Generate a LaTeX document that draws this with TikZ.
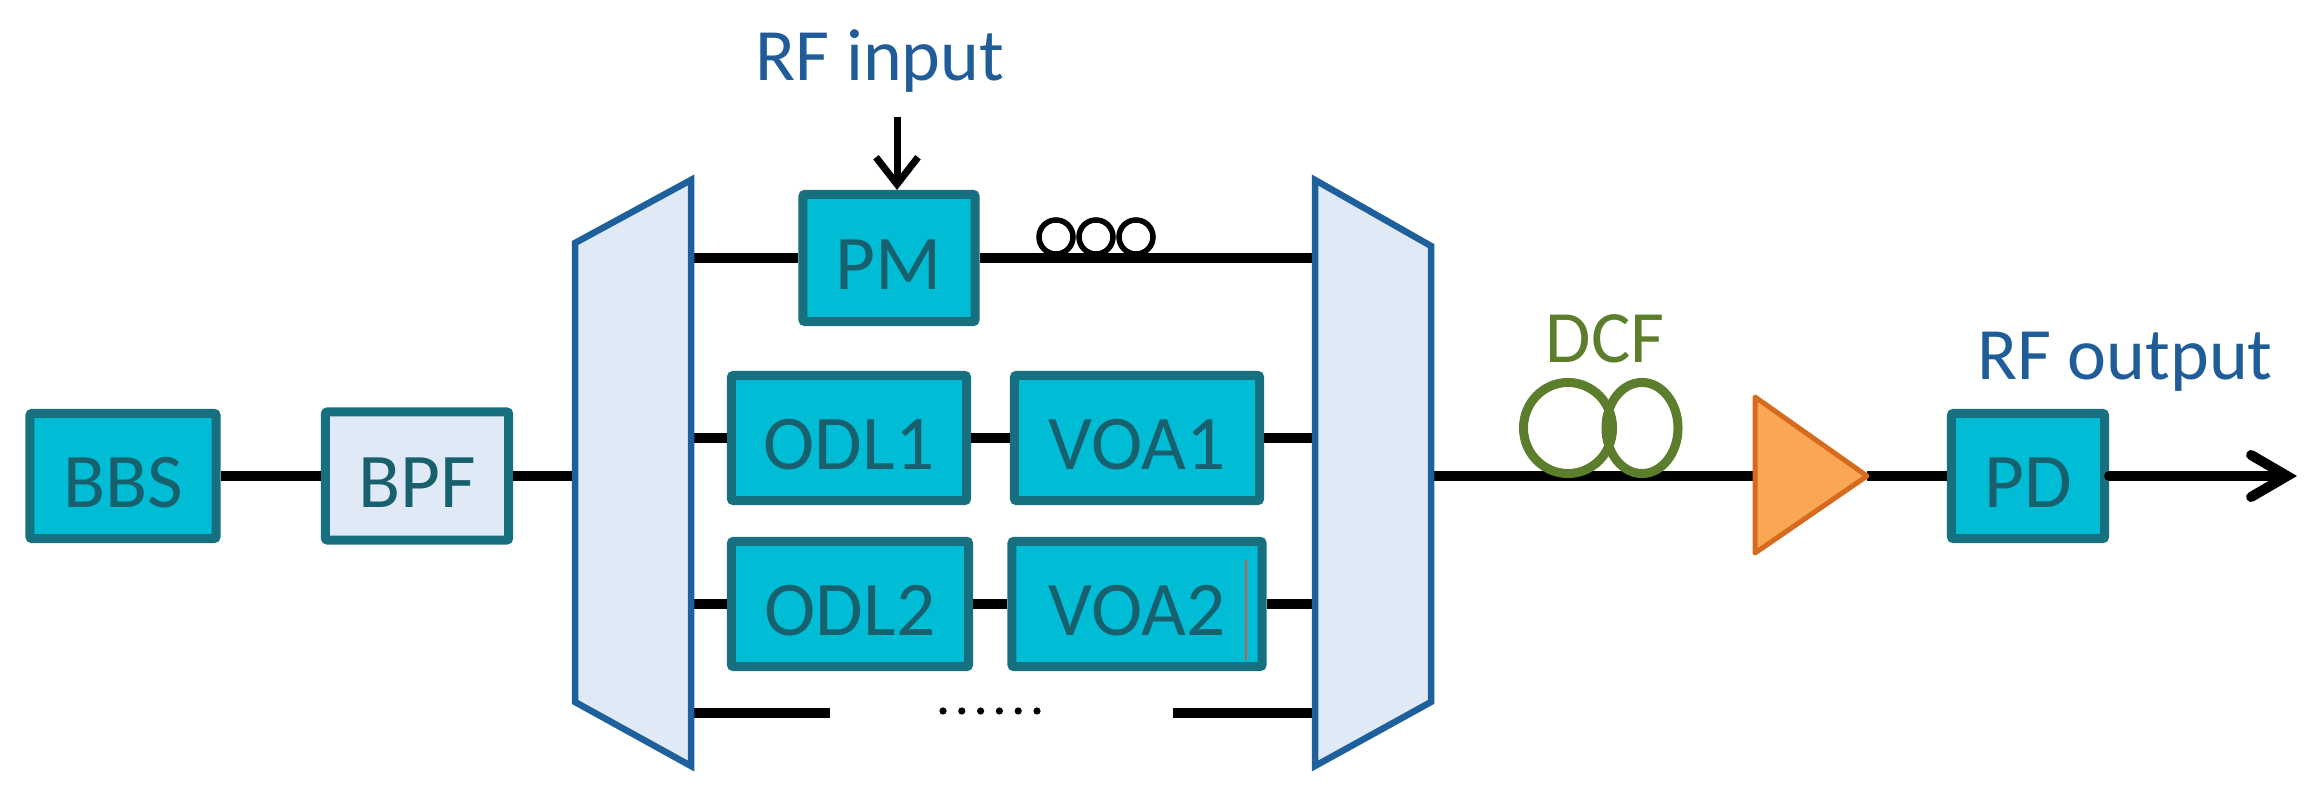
\documentclass[tikz,border=0pt]{standalone}
\usepackage{fontspec}
\setmainfont{Carlito}
\usetikzlibrary{arrows.meta}
\definecolor{tealfill}{RGB}{0,188,212}
\definecolor{tealdraw}{RGB}{22,112,128}
\definecolor{tealtext}{RGB}{24,96,110}
\definecolor{lightfill}{RGB}{223,234,246}
\definecolor{muxdraw}{RGB}{30,96,156}
\definecolor{labelblue}{RGB}{31,92,152}
\definecolor{dcfgreen}{RGB}{92,126,44}
\definecolor{ampfill}{RGB}{250,166,82}
\definecolor{ampdraw}{RGB}{214,106,30}
\definecolor{cursor}{RGB}{200,90,70}
\begin{document}
\begin{tikzpicture}[x=0.01cm,y=-0.01cm,
  box/.style={draw=tealdraw, line width=0.09cm, fill=tealfill, text=tealtext,
    font=\fontsize{22}{26}\selectfont, minimum height=1.25cm, inner sep=0pt,
    rounded corners=0.02cm, text height=0.62cm, text depth=0pt},
  fiber/.style={line width=0.1cm, draw=black},
  mux/.style={draw=muxdraw, line width=0.065cm, fill=lightfill, line join=miter},
  lbl/.style={font=\fontsize{21}{25}\selectfont, text=labelblue, inner sep=0pt},
  coil/.style={draw=black, line width=0.055cm},
  dcfcoil/.style={draw=dcfgreen, line width=0.09cm},
  amp/.style={draw=ampdraw, line width=0.05cm, fill=ampfill, line join=round}]
\useasboundingbox (0,0) rectangle (2305,795);

% coordinates on the multiplexers
\coordinate (mlin) at (575,476);
\coordinate (ml1) at (691,258);
\coordinate (ml2) at (691,438);
\coordinate (ml3) at (691,604);
\coordinate (ml4) at (691,713);
\coordinate (mr1) at (1315,258);
\coordinate (mr2) at (1315,438);
\coordinate (mr3) at (1315,604);
\coordinate (mr4) at (1315,713);
\coordinate (mrout) at (1431,476);
\coordinate (bl) at (830,713);
\coordinate (br) at (1173,713);
\coordinate (ampin) at (1755,476);
\coordinate (ampout) at (1867,476);
\coordinate (outend) at (2297,476);
\coordinate (rfa) at (897,117);

% boxes
\node[box, minimum width=1.86cm] (bbs) at (123,476) {BBS};
\node[box, fill=lightfill, minimum width=1.83cm, minimum height=1.28cm] (bpf) at (417,476) {BPF};
\node[box, minimum width=1.72cm, minimum height=1.27cm] (pm) at (889,258) {PM};
\node[box, minimum width=2.35cm] (odl1) at (849,438) {ODL1};
\node[box, minimum width=2.45cm] (voa1) at (1137,438) {VOA1};
\node[box, minimum width=2.37cm] (odl2) at (850,604) {ODL2};
\node[box, minimum width=2.5cm] (voa2) at (1137,604) {VOA2};
\node[box, minimum width=1.53cm] (pd) at (2028,476) {PD};

% fibres
\draw[fiber] (bbs.east) -- (bpf.west);
\draw[fiber] (bpf.east) -- (mlin);
\draw[fiber] (ml1) -- (pm.west);
\draw[fiber] (pm.east) -- (mr1);
\draw[fiber] (ml2) -- (odl1.west);
\draw[fiber] (odl1.east) -- (voa1.west);
\draw[fiber] (voa1.east) -- (mr2);
\draw[fiber] (ml3) -- (odl2.west);
\draw[fiber] (odl2.east) -- (voa2.west);
\draw[fiber] (voa2.east) -- (mr3);
\draw[fiber] (ml4) -- (bl);
\draw[fiber] (br) -- (mr4);
\draw[fiber] (mrout) -- (ampin);
\draw[fiber] (ampout) -- (pd.west);
\draw[fiber, -{Straight Barb[length=0.36cm, width=0.42cm, line cap=round]}, line cap=round] (pd.east) -- (outend);
\draw[line width=0.07cm, -{Straight Barb[length=0.27cm, width=0.42cm]}] (rfa) -- (rfa |- pm.north);

% cursor mark inside VOA2
\draw[cursor, line width=0.022cm] (1246,560) -- (1246,660);

% multiplexers
\draw[mux] (691,180) -- (575,243) -- (575,702) -- (691,766) -- cycle;
\draw[mux] (1315,180) -- (1431,246) -- (1431,702) -- (1315,766) -- cycle;

% fibre coil on the PM arm
\foreach \cx in {1056,1096,1136} \draw[coil] (\cx,237) circle [radius=0.17cm];

% dots
\foreach \i in {0,...,5} \fill (943+18.8*\i,711) circle [radius=0.036cm];

% DCF
\draw[dcfcoil] (1568,428) ellipse [x radius=0.445cm, y radius=0.455cm];
\draw[dcfcoil] (1642,428) ellipse [x radius=0.36cm, y radius=0.455cm];

% amplifier
\draw[amp] (ampin |- 0,397) -- (ampout) -- (ampin |- 0,553) -- cycle;

% labels
\node[lbl, anchor=base] (rfin) at (880,81) {RF input};
\node[lbl, anchor=base, text=dcfgreen] (dcf) at (1605,363) {DCF};
\node[lbl, anchor=base] (rfout) at (2125,380) {RF output};
\end{tikzpicture}
\end{document}
